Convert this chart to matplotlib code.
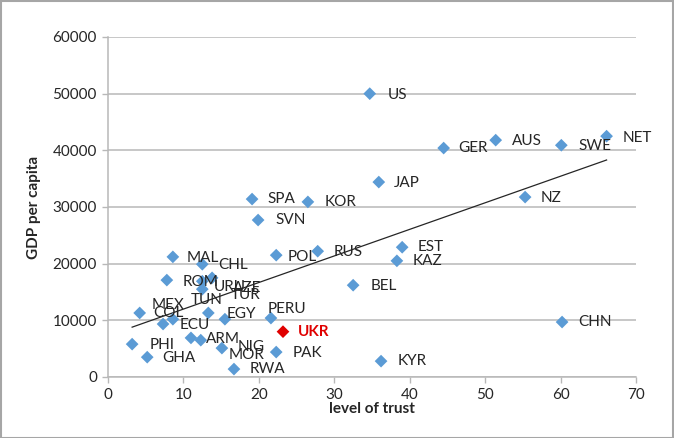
import numpy as np
import matplotlib
matplotlib.use("Agg")
import matplotlib.pyplot as plt

countries = ["US", "GER", "AUS", "SWE", "NET", "JAP", "NZ", "KOR", "SPA", "SVN",
             "POL", "RUS", "EST", "KAZ", "BEL", "UKR", "PAK", "PERU", "KYR", "CHN",
             "MAL", "CHL", "ROM", "URU", "AZE", "TUR", "TUN", "EGY", "MEX", "COL",
             "ECU", "ARM", "NIG", "MOR", "RWA", "PHI", "GHA"]
trust = [34.7, 44.5, 51.4, 60.1, 66.1, 35.9, 55.3, 26.5, 19.1, 19.9,
         22.3, 27.8, 39.0, 38.3, 32.5, 23.2, 22.3, 21.6, 36.2, 60.2,
         8.6, 12.5, 7.8, 12.5, 13.8, 12.5, 13.3, 15.5, 4.2, 7.3,
         8.6, 11.0, 12.3, 15.1, 16.7, 3.2, 5.2]
gdp = [50000, 40400, 41800, 40900, 42500, 34400, 31750, 30900, 31400, 27700,
       21500, 22200, 22900, 20500, 16200, 8000, 4400, 10400, 2800, 9700,
       21200, 19900, 17100, 16900, 17500, 15500, 11300, 10200, 11300, 9350,
       10200, 6900, 6500, 5100, 1400, 5800, 3500]

highlight = "UKR"

# label offsets in pixels (dx to left edge, dy upward) relative to the marker
label_offsets = {
    "US": (18, -1), "GER": (15, 0), "AUS": (16, -1), "SWE": (17, -1), "NET": (16, -2),
    "JAP": (15, -1), "NZ": (16, -1), "KOR": (17, 0), "SPA": (15, 0), "SVN": (17, 0),
    "POL": (11, -2), "RUS": (16, -1), "EST": (15, 0), "KAZ": (16, 0), "BEL": (17, -1),
    "UKR": (15, 0), "PAK": (16, -1), "PERU": (-3, 9), "KYR": (17, 0), "CHN": (16, 0),
    "MAL": (14, -1), "CHL": (16, -1), "ROM": (16, -2), "URU": (11, -6), "AZE": (21, -10),
    "TUR": (28, -6), "TUN": (-18, 13), "EGY": (2, 5), "MEX": (12, 8), "COL": (-10, 11),
    "ECU": (7, -6), "ARM": (15, -1), "NIG": (37, -7), "MOR": (7, -7), "RWA": (16, 0),
    "PHI": (17, -1), "GHA": (15, -1),
}

plt.rcParams['font.family'] = ['Lato', 'DejaVu Sans']

W, H = 674, 438
fig = plt.figure(figsize=(W / 100, H / 100), dpi=100)
left, right, bottom, top = 108, 636, 377, 37
ax = fig.add_axes([left / W, (H - bottom) / H, (right - left) / W, (bottom - top) / H])

blue = "#5B9BD5"
red = "#E00000"
grid_c = "#B8B8B8"

ax.set_xlim(0, 70)
ax.set_ylim(0, 60000)
ax.set_xticks(np.arange(0, 71, 10))
ax.set_yticks(np.arange(0, 60001, 10000))
ax.yaxis.grid(True, color=grid_c, linewidth=1.1)
ax.set_axisbelow(True)
for s in ["top", "right"]:
    ax.spines[s].set_visible(False)
for s in ["left", "bottom"]:
    ax.spines[s].set_color(grid_c)
    ax.spines[s].set_linewidth(1.1)
ax.tick_params(axis="both", direction="out", length=4, color=grid_c, width=1,
               labelsize=11, labelcolor="#262626", pad=4)

# trendline (least squares over all points)
tx = np.array(trust)
ty = np.array(gdp)
coef = np.polyfit(tx, ty, 1)
xs = np.array([tx.min(), tx.max()])
ax.plot(xs, np.polyval(coef, xs), color="#262626", linewidth=0.9, zorder=2)

for c, x, y in zip(countries, trust, gdp):
    is_h = c == highlight
    ax.scatter([x], [y], marker="D", s=42, color=red if is_h else blue,
               edgecolors="none", zorder=3)
    dx, dy = label_offsets.get(c, (15, 0))
    ax.annotate(c, (x, y), xytext=(dx, dy), textcoords="offset pixels",
                ha="left", va="center", fontsize=11,
                color=red if is_h else "#262626",
                fontweight="bold" if is_h else "normal", zorder=4)

ax.set_xlabel("level of trust", fontsize=11, fontweight="bold", color="#262626", labelpad=0)
ax.set_ylabel("GDP per capita", fontsize=11, fontweight="bold", color="#262626", labelpad=8)

# outer chart border
fig.patches.append(plt.Rectangle((0.001, 0.001), 0.998, 0.997, transform=fig.transFigure,
                                 fill=False, edgecolor="#A6A6A6", linewidth=1.5))

fig.savefig("out.png", dpi=100)
